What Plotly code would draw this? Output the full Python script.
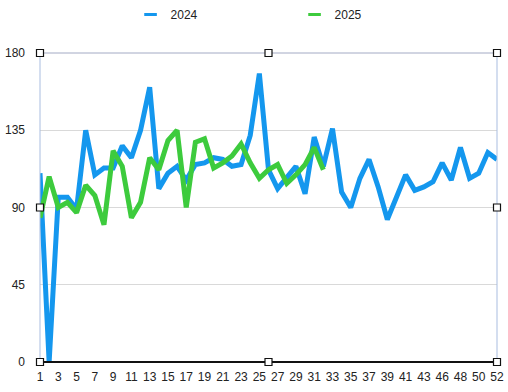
import plotly.graph_objects as go

weeks = [str(w) for w in list(range(1, 45)) + list(range(46, 53))]

sales_2024 = [110, 0, 96, 96, 89, 135, 109, 113, 113, 126, 119, 135, 160, 101,
              110, 114, 106, 115, 116, 119, 118, 114, 115, 132, 168, 112, 101,
              108, 114, 98, 131, 114, 136, 99, 90, 107, 118, 102, 83, 96, 109,
              100, 102, 105, 116, 106, 125, 107, 110, 122, 118]

sales_2025 = [84, 108, 90, 93, 87, 103, 97, 80, 123, 114, 84, 93, 119, 112,
              129, 135, 90, 128, 130, 113, 116, 120, 127, 116, 107, 112, 115,
              104, 109, 115, 125, 112]

tick_labels = weeks[::2] + ([] if (len(weeks) - 1) % 2 == 0 else [weeks[-1]])
y_ticks = [0, 45, 90, 135, 180]

BLUE = "#1497ee"
GREEN = "#3dcb3d"
FONT = "Liberation Sans, Arial, sans-serif"

fig = go.Figure()
fig.add_trace(go.Scatter(x=weeks, y=sales_2024, mode="lines", name="2024",
                         line=dict(color=BLUE, width=5), showlegend=False))
fig.add_trace(go.Scatter(x=weeks[:len(sales_2025)], y=sales_2025, mode="lines",
                         name="2025", line=dict(color=GREEN, width=5),
                         showlegend=False))
# legend entries with short line glyphs
for name, col in (("2024", BLUE), ("2025", GREEN)):
    fig.add_trace(go.Scatter(x=[None], y=[None], mode="markers", name=name,
                             marker=dict(symbol="line-ew-open", size=9,
                                         color=col,
                                         line=dict(color=col, width=3))))

fig.update_layout(
    width=508, height=392,
    margin=dict(l=40, r=11, t=53, b=30, autoexpand=False),
    paper_bgcolor="white", plot_bgcolor="white",
    font=dict(family=FONT, size=12, color="#222222"),
    legend=dict(orientation="h", x=0.557, xanchor="center", y=1.0,
                yanchor="top", yref="container", entrywidth=119,
                font=dict(size=12, color="#222222"), itemclick=False,
                tracegroupgap=0),
    xaxis=dict(type="category", categoryorder="array", categoryarray=weeks,
               range=[0, len(weeks) - 1], tickvals=tick_labels,
               ticktext=tick_labels, showgrid=False, zeroline=False,
               showline=False, ticks="", ticklabelstandoff=6,
               automargin=False,
               tickfont=dict(size=12, color="#222222")),
    yaxis=dict(range=[0, 180], tickvals=y_ticks, showgrid=True,
               gridcolor="#d9d9d9", gridwidth=1, zeroline=False,
               showline=False, ticks="", ticklabelstandoff=14,
               automargin=False,
               tickfont=dict(size=12, color="#222222")),
)

# frame: top, right, left edges (thin blue-grey), bottom axis (black)
fig.add_shape(type="line", xref="paper", yref="paper", x0=0, x1=1, y0=1, y1=1,
              line=dict(color="#a3aac4", width=1))
fig.add_shape(type="line", xref="paper", yref="paper", x0=1, x1=1, y0=0, y1=1,
              line=dict(color="#a9bde0", width=1))
fig.add_shape(type="line", xref="paper", yref="paper", x0=0, x1=0, y0=0, y1=1,
              line=dict(color="#a9bde0", width=1))
fig.add_shape(type="line", xref="paper", yref="paper", x0=0, x1=1, y0=0, y1=0,
              line=dict(color="#111111", width=2))

# selection handles
for hx in (0, 0.5, 1):
    for hy in (0, 0.5, 1):
        if hx == 0.5 and hy == 0.5:
            continue
        fig.add_shape(type="rect", xref="paper", yref="paper",
                      xsizemode="pixel", ysizemode="pixel",
                      xanchor=hx, yanchor=hy, x0=-3.5, x1=3.5, y0=-3.5, y1=3.5,
                      fillcolor="white", line=dict(color="#111111", width=1.2))

fig.write_html("out.html", config={"displayModeBar": False},
               post_script="document.body.style.margin='0';"
                           "document.body.style.overflow='hidden';")
